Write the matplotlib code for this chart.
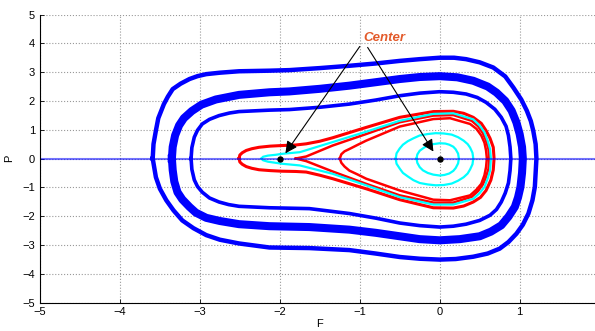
import numpy as np
import matplotlib.pyplot as plt

plt.rcParams["font.family"] = ["Liberation Sans", "DejaVu Sans"]

# Trajetórias: pontos (F, P), cada curva fechada
# banda azul externa
b1_F = [-3.59, -3.58, -3.55, -3.52, -3.45, -3.40, -3.34, -3.24, -3.13, -3.03, -2.92, -2.75, -2.51, -2.13,
        -1.88, -1.50, -1.13, -0.80, -0.5, -0.25, 0.0, 0.18, 0.33, 0.50, 0.67, 0.82, 0.92, 1.02, 1.09,
        1.14, 1.17, 1.20, 1.21, 1.20, 1.19, 1.16, 1.11, 1.04, 0.96, 0.86, 0.75, 0.60, 0.42, 0.20, 0.0,
        -0.25, -0.5, -0.80, -1.13, -1.63, -2.13, -2.51, -2.75, -2.92, -3.08, -3.22, -3.33, -3.42,
        -3.50, -3.55, -3.59]
b1_P = [0.0, 0.5, 0.97, 1.4, 1.89, 2.15, 2.41, 2.6, 2.76, 2.86, 2.93, 2.98, 3.03, 3.05,
        3.07, 3.14, 3.22, 3.30, 3.39, 3.45, 3.5, 3.5, 3.45, 3.34, 3.16, 2.85, 2.47, 2.05, 1.66,
        1.3, 0.97, 0.5, 0.0, -0.5, -0.99, -1.45, -1.91, -2.3, -2.61, -2.9, -3.13, -3.3, -3.41, -3.49, -3.51,
        -3.48, -3.42, -3.30, -3.18, -3.11, -3.09, -2.95, -2.82, -2.66, -2.42, -2.15, -1.8, -1.45,
        -1.05, -0.65, 0.0]
# banda azul do meio (grossa)
b2_F = [-3.35, -3.34, -3.31, -3.26, -3.20, -3.10, -2.98, -2.80, -2.51, -2.13, -1.88, -1.50, -1.13, -0.8,
        -0.5, -0.25, 0.0, 0.22, 0.42, 0.60, 0.71, 0.82, 0.90, 0.96, 1.0, 1.03, 1.04, 1.03, 1.01,
        0.98, 0.94, 0.86, 0.77, 0.64, 0.5, 0.25, 0.0, -0.25, -0.5, -0.8, -1.13, -1.63, -2.13, -2.51,
        -2.75, -2.92, -3.05, -3.13, -3.22, -3.28, -3.32, -3.34, -3.35]
b2_P = [0.0, 0.4, 0.8, 1.15, 1.4, 1.65, 1.87, 2.05, 2.21, 2.3, 2.33, 2.42, 2.53, 2.65,
        2.76, 2.83, 2.86, 2.82, 2.7, 2.5, 2.29, 2.0, 1.66, 1.25, 0.85, 0.4, 0.0, -0.5, -0.99,
        -1.35, -1.68, -2.02, -2.32, -2.54, -2.7, -2.8, -2.84, -2.8, -2.7, -2.58, -2.47, -2.38, -2.35, -2.28,
        -2.17, -2.06, -1.88, -1.68, -1.42, -1.17, -0.8, -0.4, 0.0]
# azul interna
b3_F = [-3.11, -3.10, -3.07, -3.03, -2.97, -2.88, -2.76, -2.63, -2.51, -2.13, -1.88, -1.50, -1.13, -0.8,
        -0.5, -0.25, 0.0, 0.17, 0.33, 0.47, 0.58, 0.69, 0.77, 0.83, 0.86, 0.88, 0.89, 0.88, 0.86,
        0.82, 0.77, 0.71, 0.63, 0.50, 0.33, 0.17, 0.0, -0.25, -0.5, -0.8, -1.13, -1.63, -2.13, -2.51,
        -2.64, -2.76, -2.88, -2.97, -3.03, -3.07, -3.10, -3.11]
b3_P = [0.0, 0.38, 0.74, 0.98, 1.2, 1.36, 1.49, 1.58, 1.63, 1.68, 1.70, 1.78, 1.89, 2.03,
        2.18, 2.27, 2.32, 2.3, 2.24, 2.12, 1.95, 1.71, 1.43, 1.12, 0.8, 0.4, 0.0, -0.42, -0.85,
        -1.2, -1.51, -1.77, -1.97, -2.15, -2.28, -2.35, -2.38, -2.33, -2.24, -2.07, -1.91, -1.74, -1.71, -1.66,
        -1.6, -1.51, -1.37, -1.17, -0.97, -0.74, -0.38, 0.0]

# vermelha externa
r1_F = [-2.51, -2.50, -2.47, -2.42, -2.35, -2.26, -2.12, -1.98, -1.80, -1.67, -1.50, -1.34, -0.92, -0.5,
        -0.08, 0.17, 0.30, 0.42, 0.52, 0.58, 0.63, 0.67, 0.68,
        0.67, 0.64, 0.58, 0.51, 0.42, 0.30, 0.17, -0.08, -0.5, -0.92, -1.34, -1.50, -1.67, -1.80,
        -1.98, -2.12, -2.26, -2.35, -2.42, -2.47, -2.50, -2.51]
r1_P = [0.0, 0.12, 0.2, 0.28, 0.34, 0.39, 0.43, 0.45, 0.47, 0.51, 0.6, 0.72, 1.08, 1.43,
        1.63, 1.64, 1.57, 1.43, 1.22, 0.97, 0.7, 0.39, 0.0,
        -0.4, -0.75, -1.11, -1.35, -1.51, -1.65, -1.72, -1.71, -1.43, -1.05, -0.7, -0.58, -0.47, -0.45,
        -0.44, -0.42, -0.39, -0.34, -0.28, -0.2, -0.12, 0.0]
# vermelha com a cúspide
r2_F = [-1.8, -1.67, -1.34, -0.92, -0.5, -0.08, 0.17, 0.4, 0.48, 0.54, 0.58, 0.61, 0.62,
        0.61, 0.58, 0.54, 0.48, 0.4, 0.17, -0.08, -0.5, -0.92, -1.34, -1.67, -1.8]
r2_P = [0.0, 0.07, 0.45, 0.85, 1.26, 1.49, 1.51, 1.31, 1.12, 0.88, 0.62, 0.33, 0.0,
        -0.36, -0.64, -0.9, -1.13, -1.33, -1.53, -1.53, -1.28, -0.88, -0.45, -0.09, 0.0]
# vermelha interna
r3_F = [-1.25, -1.23, -1.19, -1.13, -1.03, -0.92, -0.5, -0.08, 0.13, 0.38, 0.46, 0.52, 0.56, 0.58, 0.59,
        0.58, 0.56, 0.52, 0.46, 0.38, 0.13, -0.08, -0.5, -0.92, -1.03, -1.13, -1.19, -1.23, -1.25]
r3_P = [0.0, 0.15, 0.25, 0.33, 0.47, 0.62, 1.11, 1.37, 1.4, 1.2, 1.03, 0.8, 0.55, 0.28, 0.0,
        -0.3, -0.58, -0.88, -1.08, -1.28, -1.45, -1.43, -1.11, -0.7, -0.55, -0.42, -0.28, -0.15, 0.0]

# ciano perto da separatriz
c1_F = [-2.23, -2.21, -2.15, -2.05, -1.98, -1.75, -1.34, -0.92, -0.5, -0.08, 0.17, 0.42, 0.50, 0.56,
        0.60, 0.63, 0.64, 0.63, 0.60, 0.56, 0.50, 0.42, 0.17, -0.08, -0.5, -0.92, -1.34, -1.75,
        -1.98, -2.05, -2.15, -2.21, -2.23]
c1_P = [0.0, 0.06, 0.1, 0.13, 0.16, 0.22, 0.57, 0.93, 1.31, 1.55, 1.57, 1.36, 1.15, 0.91,
        0.62, 0.33, 0.0, -0.42, -0.7, -0.99, -1.2, -1.4, -1.6, -1.6, -1.34, -0.93, -0.53, -0.24,
        -0.18, -0.15, -0.11, -0.06, 0.0]
# ciano em volta do centro em 0
c2_F = [-0.55, -0.54, -0.5, -0.46, -0.4, -0.33, -0.25, -0.15, -0.05, 0.05, 0.15, 0.23, 0.3, 0.35, 0.38,
        0.41, 0.42, 0.41, 0.38, 0.35, 0.3, 0.23, 0.15, 0.05, -0.05, -0.15, -0.25, -0.33, -0.4, -0.46,
        -0.5, -0.54, -0.55]
c2_P = [0.0, 0.18, 0.35, 0.48, 0.6, 0.7, 0.8, 0.85, 0.88, 0.87, 0.83, 0.74, 0.62, 0.5, 0.38,
        0.2, 0.0, -0.2, -0.38, -0.52, -0.65, -0.77, -0.87, -0.92, -0.93, -0.9, -0.85, -0.75, -0.62, -0.5,
        -0.35, -0.18, 0.0]
c3_F = [-0.29, -0.28, -0.25, -0.2, -0.15, -0.08, 0.0, 0.07, 0.12, 0.17, 0.2, 0.23, 0.24, 0.23, 0.2,
        0.17, 0.12, 0.06, 0.0, -0.08, -0.15, -0.21, -0.25, -0.28, -0.29]
c3_P = [0.0, 0.14, 0.27, 0.37, 0.45, 0.5, 0.53, 0.52, 0.48, 0.41, 0.32, 0.17, 0.0, -0.17, -0.33,
        -0.43, -0.52, -0.57, -0.59, -0.56, -0.5, -0.41, -0.3, -0.15, 0.0]

centros_F = [-2.0, 0.0]
centros_P = [0.0, 0.0]

fig = plt.figure(figsize=(5.95, 3.31), dpi=100)
ax = fig.add_axes([0.0672, 0.0861, 0.9405, 0.870])

# grid estilo matlab
ax.grid(True, linestyle=":", color="#999999", linewidth=0.8)
ax.set_axisbelow(True)

ax.plot(b1_F, b1_P, color="blue", linewidth=3.2, solid_joinstyle="round")
ax.plot(b2_F, b2_P, color="blue", linewidth=5.8, solid_joinstyle="round")
ax.plot(b3_F, b3_P, color="blue", linewidth=2.6, solid_joinstyle="round")
ax.plot(r1_F, r1_P, color="red", linewidth=2.2, solid_joinstyle="round")
ax.plot(r2_F, r2_P, color="red", linewidth=1.8)
ax.plot(r3_F, r3_P, color="red", linewidth=1.8, solid_joinstyle="round")
ax.plot(c1_F, c1_P, color="cyan", linewidth=1.6, solid_joinstyle="round")
ax.plot(c2_F, c2_P, color="cyan", linewidth=1.6, solid_joinstyle="round")
ax.plot(c3_F, c3_P, color="cyan", linewidth=1.6, solid_joinstyle="round")

# linha P = 0
ax.axhline(0, color=(0.0, 0.0, 1.0, 0.55), linewidth=1.5)

ax.plot(centros_F, centros_P, "o", color="black", markersize=3.6)

# setas "Center"
seta = dict(arrowstyle="-|>,head_length=0.6,head_width=0.3", color="black", lw=0.8, mutation_scale=12)
ax.annotate("", xy=(-1.95, 0.1), xytext=(-0.98, 3.97), arrowprops=seta)
ax.annotate("", xy=(-0.06, 0.16), xytext=(-0.92, 3.94), arrowprops=seta)
ax.text(-0.96, 4.08, "Center", color="#e35a2a", fontsize=9.5, fontweight="bold",
        fontstyle="italic", ha="left", va="baseline")

ax.set_xlim(-5, 2)
ax.set_ylim(-5, 5)
ax.set_xticks(range(-5, 2))
ax.set_yticks(range(-5, 6))
ax.set_xlabel("F", fontsize=8, labelpad=1)
ax.set_ylabel("P", fontsize=8, labelpad=6)
ax.tick_params(direction="in", length=3, labelsize=8, width=0.6)
ax.spines["top"].set_visible(False)
ax.spines["right"].set_visible(False)
ax.spines["left"].set_linewidth(0.8)
ax.spines["bottom"].set_linewidth(0.8)

fig.savefig("out.png", dpi=100)
